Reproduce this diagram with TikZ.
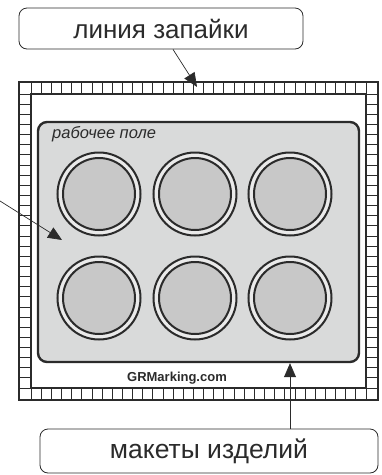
\documentclass[tikz,border=0pt]{standalone}
\usepackage{fontspec}
\setmainfont{Liberation Sans}
\usetikzlibrary{arrows.meta}
\definecolor{dk}{HTML}{2B2B2B}
\definecolor{fieldgray}{HTML}{D9DADA}
\definecolor{ringgray}{HTML}{EAEAEA}
\definecolor{diegray}{HTML}{C8C8C8}
\tikzset{
  callout/.style={draw=dk, line width=0.8pt, rounded corners=8pt, fill=white, inner sep=0pt},
  arr/.style={draw=dk, line width=0.7pt, -{Triangle[length=14pt,width=12pt]}},
  ring/.style={circle, draw=dk, line width=2pt, fill=ringgray, minimum size=83pt, inner sep=0pt},
  die/.style={circle, draw=dk, line width=2pt, fill=diegray, minimum size=72pt, inner sep=0pt},
  cell/.style={draw=dk, line width=0.8pt},
}
\begin{document}
\begin{tikzpicture}[x=1pt,y=-1pt]
\useasboundingbox (0,0) rectangle (382,475);
% sealing frame
\fill[white] (19,82) rectangle (378,400);
\foreach \i in {0,...,33} {
  \draw[cell] ({31+\i*335/33},82) -- ({31+\i*335/33},94);
  \draw[cell] ({31+\i*335/33},388) -- ({31+\i*335/33},400);
}
\foreach \j in {0,...,29} {
  \draw[cell] (19,{94+\j*294/29}) -- (31,{94+\j*294/29});
  \draw[cell] (366,{94+\j*294/29}) -- (378,{94+\j*294/29});
}
\draw[draw=dk, line width=1.4pt] (31,94) rectangle (366,388);
\draw[draw=dk, line width=2.4pt] (19,82) rectangle (378,400);
% working field
\node[draw=dk, line width=2.4pt, fill=fieldgray, rounded corners=9pt, minimum width=321pt, minimum height=240pt, inner sep=0pt] (field) at (198.5,242) {};
\node[anchor=west, font=\itshape\fontsize{16.5}{16.5}\selectfont, text=dk, inner sep=0pt] (flabel) at (52,134) {рабочее поле};
% product layouts
\foreach \cx/\n in {99/1,195/2,290/3} {
  \foreach \cy/\r in {194/a,298/b} {
    \node[ring] (ring\n\r) at (\cx,\cy) {};
    \node[die] (die\n\r) at (\cx,\cy) {};
  }
}
\node[font=\bfseries\fontsize{13}{13}\selectfont, text=dk, inner sep=0pt] (site) at (177,378) {GRMarking.com};
% callouts
\node[callout, minimum width=284pt, minimum height=41pt, font=\fontsize{26}{26}\selectfont, text=dk] (topbox) at (161,28.5) {линия запайки};
\node[callout, minimum width=338pt, minimum height=44pt, font=\fontsize{26.5}{26.5}\selectfont, text=dk] (botbox) at (209,451) {\raisebox{-4pt}{макеты изделий}};
\coordinate (toptip) at (197,87);
\coordinate (lfree) at (0,201);
\coordinate (lefttip) at (62,240);
\draw[arr] ([xshift=12pt]topbox.south) -- (toptip);
\draw[arr] (botbox.north -| 290,0) -- (field.south -| 290,0);
\draw[arr] (lfree) -- (lefttip);
\end{tikzpicture}
\end{document}
